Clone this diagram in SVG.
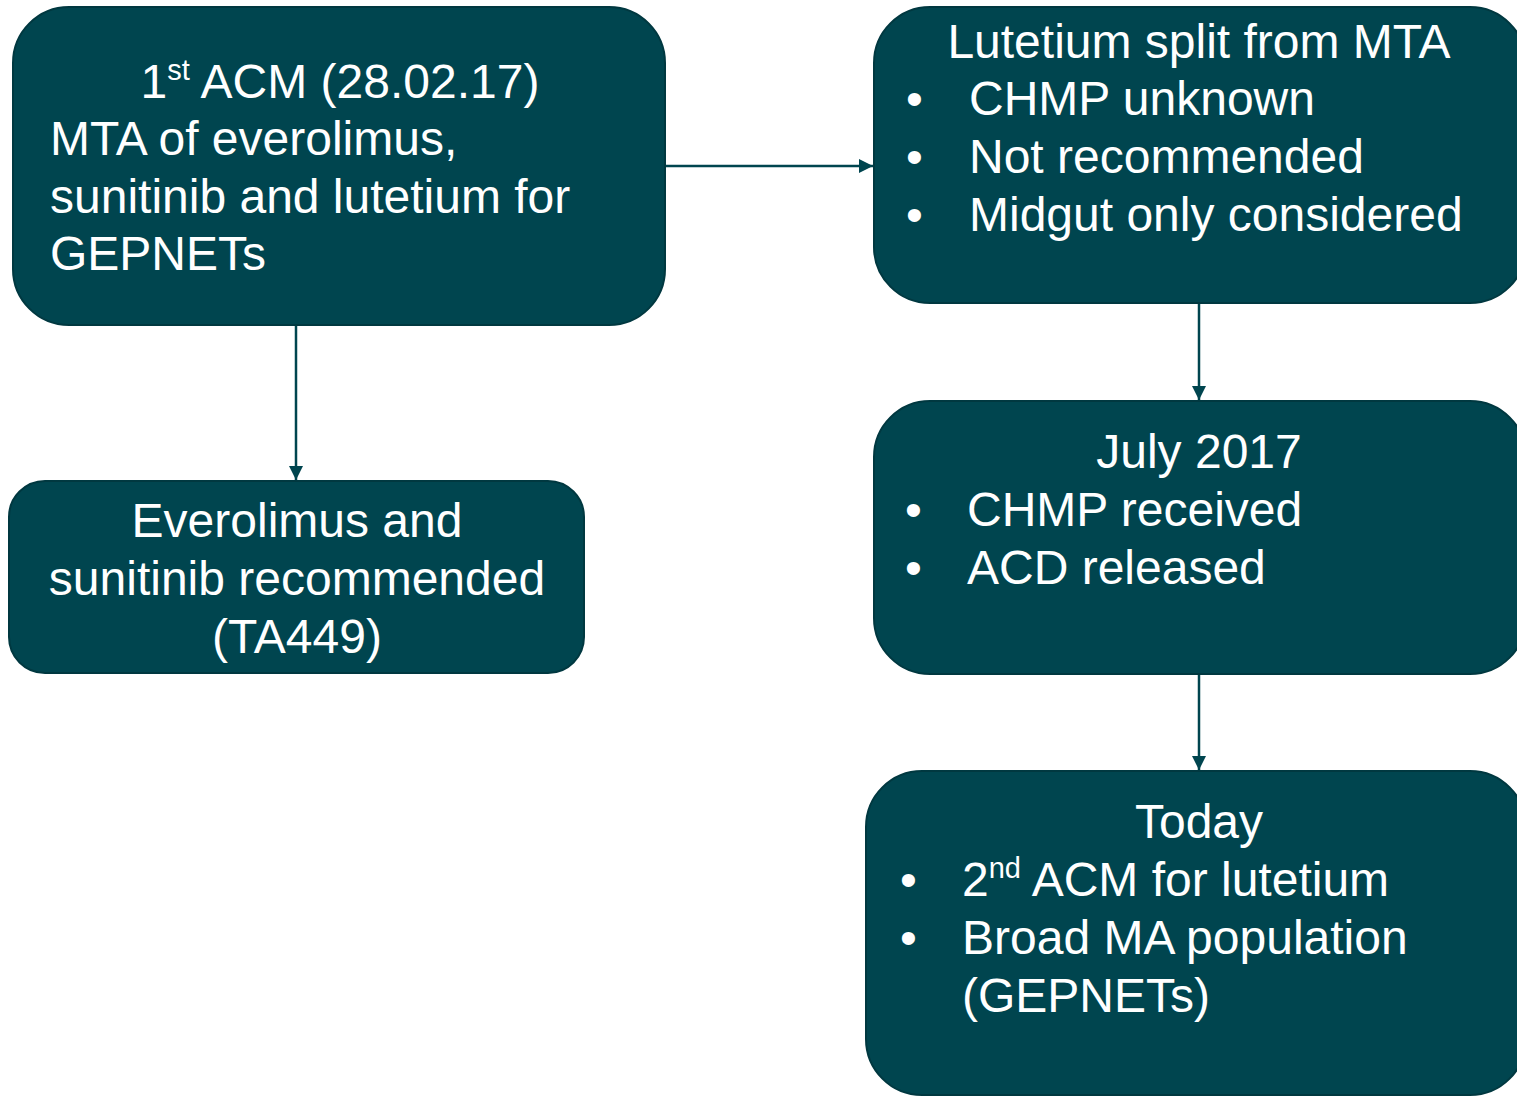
<svg xmlns="http://www.w3.org/2000/svg" width="1517" height="1096" viewBox="0 0 1517 1096">
<defs>
<style>
.box{fill:#00454F;stroke:#003840;stroke-width:2}
.t{font-family:"Liberation Sans",Arial,sans-serif;font-size:48px;fill:#ffffff}
.c{text-anchor:middle}
.sup{font-size:29px}
.conn{stroke:#00454F;stroke-width:2.5;fill:none}
</style>
<marker id="ah" viewBox="0 0 10 10" refX="10" refY="5" markerWidth="15" markerHeight="14" markerUnits="userSpaceOnUse" orient="auto">
<path d="M0,0 L10,5 L0,10 z" fill="#00454F"/>
</marker>
</defs>
<rect width="1517" height="1096" fill="#ffffff"/>
<g id="connectors">
<line class="conn" x1="666" y1="166" x2="873" y2="166" marker-end="url(#ah)"/>
<line class="conn" x1="296" y1="325" x2="296" y2="480" marker-end="url(#ah)"/>
<line class="conn" x1="1199" y1="303" x2="1199" y2="400" marker-end="url(#ah)"/>
<line class="conn" x1="1199" y1="674" x2="1199" y2="770" marker-end="url(#ah)"/>
</g>
<g id="node-acm1">
<rect class="box" x="13" y="7" width="652" height="318" rx="56"/>
<text class="t c" x="340" y="98">1<tspan class="sup" dy="-18">st</tspan><tspan dy="18"> ACM (28.02.17)</tspan></text>
<text class="t" x="50" y="155">MTA of everolimus,</text>
<text class="t" x="50" y="213">sunitinib and lutetium for</text>
<text class="t" x="50" y="270">GEPNETs</text>
</g>
<g id="node-everolimus">
<rect class="box" x="9" y="481" width="575" height="192" rx="36"/>
<text class="t c" x="297" y="537">Everolimus and</text>
<text class="t c" x="297" y="595">sunitinib recommended</text>
<text class="t c" x="297" y="653">(TA449)</text>
</g>
<g id="node-lutetium">
<rect class="box" x="874" y="7" width="652" height="296" rx="56"/>
<text class="t c" x="1199" y="58">Lutetium split from MTA</text>
<text class="t" x="906" y="115">•</text><text class="t" x="969" y="115">CHMP unknown</text>
<text class="t" x="906" y="173">•</text><text class="t" x="969" y="173">Not recommended</text>
<text class="t" x="906" y="231">•</text><text class="t" x="969" y="231">Midgut only considered</text>
</g>
<g id="node-july">
<rect class="box" x="874" y="401" width="652" height="273" rx="56"/>
<text class="t c" x="1199" y="468">July 2017</text>
<text class="t" x="905" y="526">•</text><text class="t" x="967" y="526">CHMP received</text>
<text class="t" x="905" y="584">•</text><text class="t" x="967" y="584">ACD released</text>
</g>
<g id="node-today">
<rect class="box" x="866" y="771" width="660" height="324" rx="56"/>
<text class="t c" x="1199" y="838">Today</text>
<text class="t" x="900" y="896">•</text><text class="t" x="962" y="896">2<tspan class="sup" dy="-18">nd</tspan><tspan dy="18"> ACM for lutetium</tspan></text>
<text class="t" x="900" y="954">•</text><text class="t" x="962" y="954">Broad MA population</text>
<text class="t" x="962" y="1012">(GEPNETs)</text>
</g>
</svg>
